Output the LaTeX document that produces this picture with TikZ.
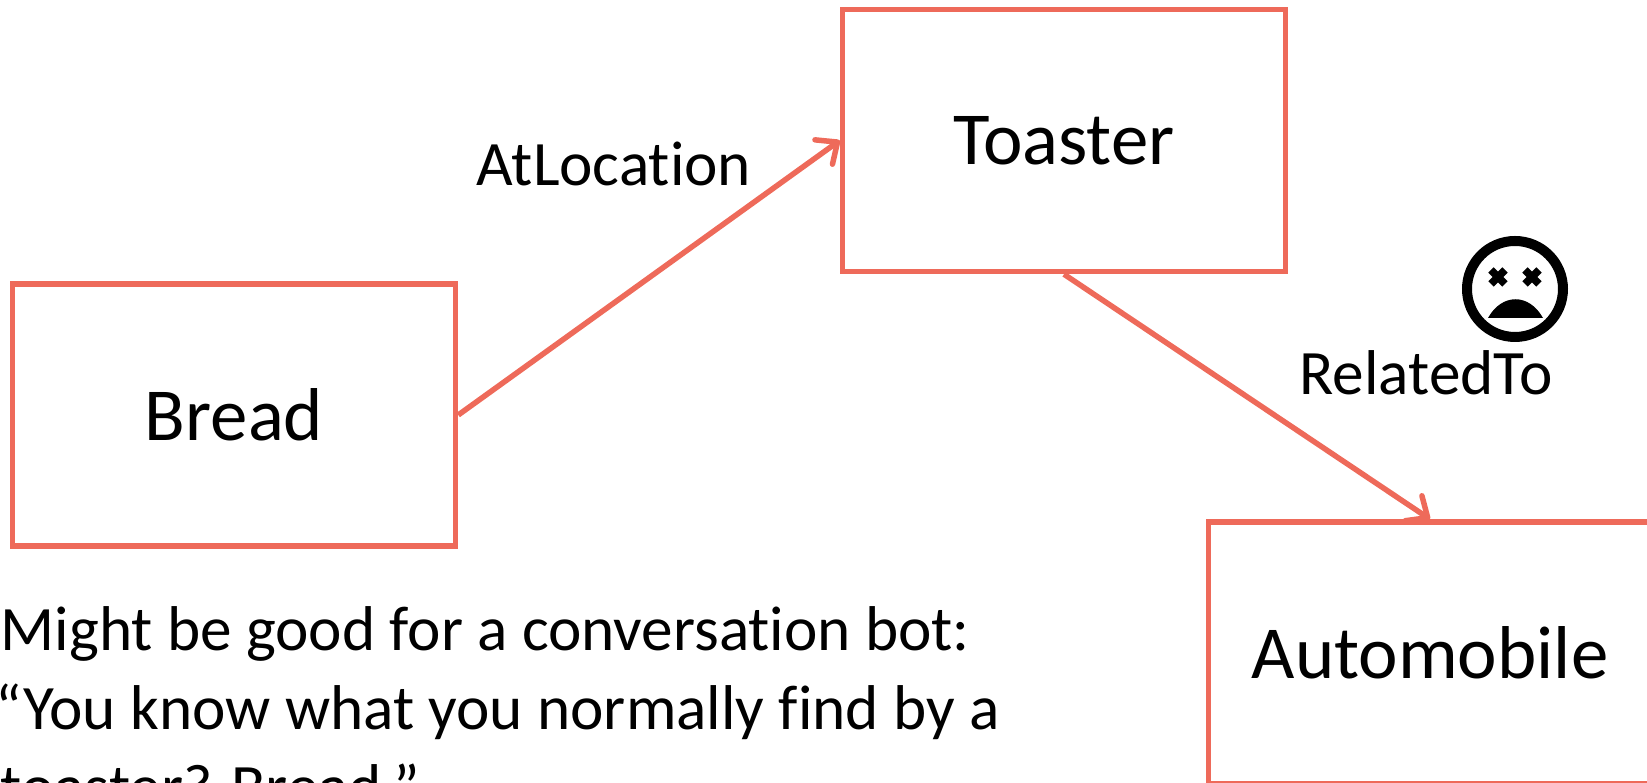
\documentclass[tikz,border=0pt]{standalone}
\usepackage{fontspec}
\setmainfont[Ligatures=NoCommon]{Carlito}
\usetikzlibrary{arrows.meta}
\definecolor{salmon}{RGB}{238,106,90}

\begin{document}
\begin{tikzpicture}
  [termbox/.style={rectangle,draw=salmon,line width=0.055cm,inner sep=0pt,minimum width=4.43cm,minimum height=2.62cm,font=\fontsize{21.3}{25}\selectfont},
  rel/.style={draw=salmon,line width=0.055cm,-{Straight Barb[length=0.17cm,width=0.3cm,round]}},
  edgelabel/.style={inner sep=0pt,font=\fontsize{18}{22}\selectfont}]
  \useasboundingbox (0,0) rectangle (16.47,7.83);

  \node[termbox] (bread) at (2.34,3.68) {Bread};
  \node[termbox] (toaster) at (10.64,6.425) {Toaster};
  \node[termbox] (automobile) at (14.3,1.3) {Automobile};

  \draw [rel] (bread.east) -- (toaster.west);
  \draw [rel] (toaster.south) -- (automobile.north);

  \node[edgelabel] (atlocation) at (6.14,6.19) {AtLocation};
  \node[edgelabel] (relatedto) at (14.26,4.1) {RelatedTo};

  % dead smiley
  \draw [black,line width=0.1cm] (15.15,4.94) circle (0.48);
  \draw [black,line width=0.075cm] (14.91,4.99) -- (15.05,5.13) (14.91,5.13) -- (15.05,4.99);
  \draw [black,line width=0.075cm] (15.25,4.99) -- (15.39,5.13) (15.25,5.13) -- (15.39,4.99);
  \fill [black] (14.88,4.65) .. controls (15.02,4.9) and (15.29,4.9) .. (15.43,4.65) -- cycle;

  \node[anchor=north west,inner sep=0pt,align=left,font=\fontsize{18}{22.4}\selectfont] (note) at (0.0,1.77)
    {Might be good for a conversation bot:\\\hspace*{-0.05cm}“You know what you normally find by a\\toaster? Bread.”};
\end{tikzpicture}
\end{document}
